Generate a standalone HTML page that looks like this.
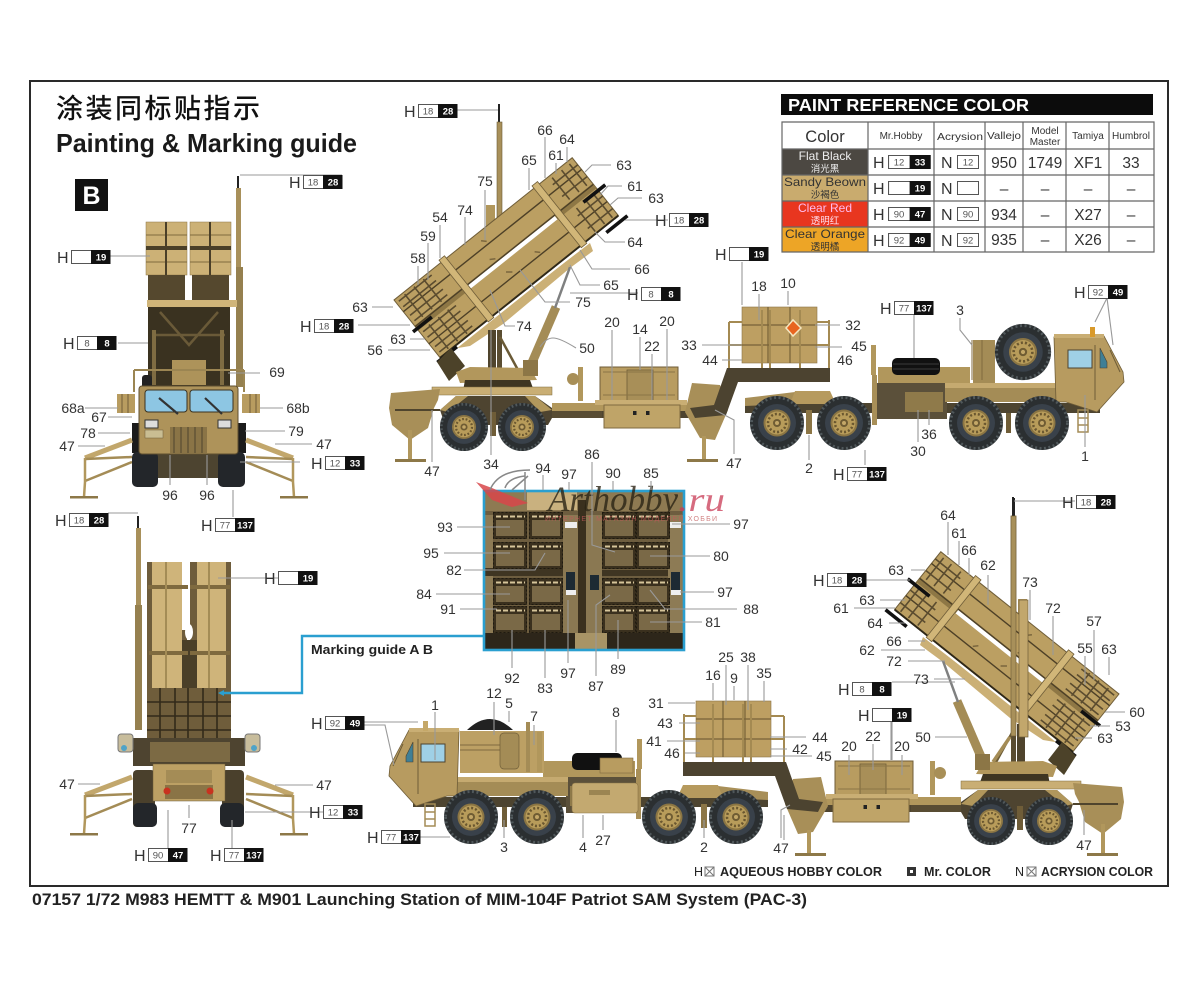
<!DOCTYPE html>
<html><head><meta charset="utf-8"><title>Painting &amp; Marking guide</title>
<style>
html,body{margin:0;padding:0;background:#fff}
svg{display:block}
text{font-family:"Liberation Sans","Noto Sans CJK SC",sans-serif}
.l text{font-size:14px;fill:#333;text-anchor:middle}
.ld{fill:none;stroke:#999;stroke-width:1.1}
.c text{font-size:9.5px;text-anchor:middle}
.c .w{fill:#555}.c .b{fill:#fff;font-weight:bold}
.c .h{font-size:16px;fill:#333;text-anchor:start}
.t text{text-anchor:middle;fill:#333}
</style></head><body>
<svg width="1200" height="982" viewBox="0 0 1200 982" xmlns="http://www.w3.org/2000/svg">
<defs>
<g id="chip"><rect x=".5" y=".5" width="38.5" height="13" fill="#fff" stroke="#555"/><rect x="20" y="0" width="19.5" height="14" fill="#111"/></g>
<g id="wheel">
<circle r="27" fill="#2b2f31"/><circle r="25.5" fill="none" stroke="#50585b" stroke-width="3" stroke-dasharray="2 2.5"/>
<circle r="19" fill="#39414a"/><circle r="13.5" fill="#8b7543"/><circle r="11.5" fill="#b89c5a"/>
<circle r="9" fill="none" stroke="#6a5730" stroke-width="2.5" stroke-dasharray="2 2"/><circle r="4" fill="#6f5c33"/><circle r="2" fill="#c4a868"/>
</g>
<g id="launcher">
<g transform="translate(394,300) rotate(-38.6)">
<rect x="0" y="0" width="228" height="74" fill="#bb9f62" stroke="#6f5d38" stroke-width="1"/>
<rect x="0" y="33" width="228" height="6" fill="#8e7745"/>
<rect x="67" y="34.5" width="111" height="4.5" fill="#fff"/>
<path d="M0 15H228M0 56H228M0 34H228" stroke="#4d4027" stroke-width="1.4" fill="none"/>
<path d="M0 74H228" stroke="#2f2818" stroke-width="2"/>
<rect x="8" y="75" width="215" height="2" fill="#fff"/>
<rect x="60" y="-3" width="7" height="79" fill="#d1b678" stroke="#6f5d38" stroke-width=".8"/>
<rect x="179" y="-3" width="7" height="79" fill="#d1b678" stroke="#6f5d38" stroke-width=".8"/>
<g fill="none" stroke="#5b4c2f" stroke-width="1.6">
<path d="M3 4H45M3 11H45M3 22H45M3 29H45M3 43H45M3 50H45M3 62H45M3 69H45"/>
<path d="M12 2V31M24 2V31M36 2V31M12 41V72M24 41V72M36 41V72"/>
<path d="M200 3V31M212 3V31M222 3V31M200 42V72M212 42V72M222 42V72M196 9H228M196 24H228M196 49H228M196 65H228"/>
</g>
<path d="M105 8l4 4M100 28l5 3M140 50l4 4M105 48l5 4" stroke="#7b673e" stroke-width="1.5"/>
<rect x="-5" y="35" width="24" height="3.6" fill="#111"/>
<rect x="-5" y="74" width="25" height="3.6" fill="#111"/>
<rect x="209" y="40" width="28" height="3.6" fill="#111"/>
<rect x="208" y="78" width="27" height="3.6" fill="#111"/>
</g>
</g>
<g id="base">
<!-- launcher wedge plate -->
<polygon points="590,243 593,251 570,268 503,324 470,346 452,349" fill="#cbb076"/>
<!-- mast -->
<rect x="498" y="104" width="2" height="20" fill="#222"/>
<rect x="497" y="122" width="5" height="95" fill="#a8905a" stroke="#6d5b36" stroke-width=".6"/>
<rect x="486" y="205" width="9" height="35" fill="#b1975c"/>
<use href="#launcher"/>
<rect x="488" y="330" width="8" height="45" fill="#4f442d"/><rect x="497" y="330" width="5" height="40" fill="#5a4d32"/>
<path d="M500 337L518 370" stroke="#6a5a36" stroke-width="2.5"/>
<path d="M556 307L531 365" stroke="#a48c56" stroke-width="9"/><path d="M570 267L555 308" stroke="#7f8080" stroke-width="2.5"/>
<!-- launcher end bracket -->
<polygon points="437,362 451,348 465,366 449,381" fill="#4c4229"/>
<!-- turret -->
<polygon points="456,372 470,367 530,368 537,380 460,383" fill="#b2975c"/>
<polygon points="465,380 530,380 534,391 463,391" fill="#3e3522"/>
<rect x="523" y="360" width="15" height="16" fill="#8c7646"/>
<!-- bed + chassis -->
<rect x="432" y="387" width="120" height="8" fill="#c9ae74" stroke="#7f6a3f" stroke-width=".5"/>
<polygon points="440,410 456,396 535,396 552,408 690,408 690,418 552,418 548,425 445,425" fill="#4e4430"/>
<polygon points="440,410 456,396 468,396 448,412" fill="#b1975c"/>
<polygon points="535,396 552,410 540,412 525,396" fill="#b1975c"/>
<rect x="552" y="403" width="135" height="8" fill="#b1975c"/>
<rect x="552" y="411" width="50" height="7" fill="#584c33"/>
<rect x="578" y="367" width="5" height="34" fill="#b1975c"/><ellipse cx="573" cy="379" rx="6" ry="6" fill="#a88f57"/>
<!-- outriggers -->
<polygon points="391,393 440,389 438,400 434,408 428,428 410,440 392,425 389,408" fill="#a88f58"/>
<path d="M395 410H440" stroke="#4f442d" stroke-width="2"/>
<rect x="408" y="430" width="4" height="30" fill="#b1975c"/><rect x="395" y="459" width="31" height="3" fill="#8d7848"/>
<polygon points="692,383 720,385 728,410 715,440 700,438 685,412" fill="#a88f58"/>
<rect x="702" y="436" width="4" height="24" fill="#b1975c"/><rect x="687" y="459" width="31" height="3" fill="#8d7848"/>
<!-- trailer boxes -->
<rect x="600" y="367" width="78" height="35" fill="#b89c60" stroke="#6f5d38"/>
<rect x="627" y="370" width="26" height="31" fill="#a88f58" stroke="#6f5d38" stroke-width=".8"/>
<path d="M603 372H675M603 395H675" stroke="#8a7446" fill="none"/>
<rect x="595" y="400" width="92" height="5" fill="#c9ae74"/>
<rect x="604" y="405" width="76" height="23" fill="#bfa468" stroke="#7f6a3f"/>
<rect x="633" y="411" width="3.5" height="4" fill="#222"/><rect x="646" y="411" width="3.5" height="4" fill="#222"/>
<!-- gooseneck -->
<polygon points="727,368 830,368 830,382 738,382 726,415 695,418 690,408 714,405" fill="#4c4330"/>
<!-- cargo -->
<rect x="742" y="307" width="75" height="56" fill="#bd9f62" stroke="#8a7446" stroke-width=".6"/>
<path d="M742 325H817M742 345H817M768 307V363M790 307V363" stroke="#776238" stroke-width="1.2"/>
<path d="M729 322V368M729 322H742M729 345H742M762 310V368M770 310V368M800 310V368M829 320V368M829 322H817M829 345H817" fill="none" stroke="#a48a52" stroke-width="2"/>
<!-- tractor chassis -->
<rect x="745" y="403" width="355" height="10" fill="#4d4430"/>
<polygon points="745,398 795,392 795,404 745,406" fill="#a88f58"/>
<polygon points="795,391 830,391 836,404 790,404" fill="#b69a5e"/>
<rect x="877" y="383" width="70" height="36" fill="#5b503a"/>
<rect x="905" y="392" width="38" height="20" fill="#8f7a4a"/>
<rect x="878" y="367" width="92" height="16" fill="#b1975c"/>
<rect x="871" y="345" width="5" height="30" fill="#b1975c"/>
<rect x="872" y="375" width="5" height="50" fill="#a88f58"/>
<rect x="945" y="383" width="122" height="5" fill="#c5aa70"/><rect x="945" y="388" width="120" height="14" fill="#a48c56"/>
<!-- cab -->
<polygon points="1054,337 1104,336 1123,372 1124,382 1097,412 1066,402 1056,402" fill="#b79b60" stroke="#6f5d38" stroke-width=".8"/>
<rect x="1054" y="334" width="50" height="4" fill="#c9ae74"/>
<rect x="1068" y="350" width="24" height="18" fill="#9fd0e6" stroke="#4c4330"/>
<polygon points="1100,348 1107,362 1107,368 1100,368" fill="#3f7f96" stroke="#4c4330" stroke-width=".6"/>
<path d="M1095 345V400M1110 350L1120 372" stroke="#6f5d38" fill="none"/>
<rect x="1078" y="410" width="10" height="22" fill="none" stroke="#a48c56" stroke-width="1.5"/>
<path d="M1078 418H1088M1078 425H1088" stroke="#a48c56" stroke-width="1.5"/>
<!-- wheels -->
<use href="#wheel" transform="translate(464,427) scale(.89)"/>
<use href="#wheel" transform="translate(522,427) scale(.89)"/>
<use href="#wheel" transform="translate(777,423)"/>
<use href="#wheel" transform="translate(844,423)"/>
<use href="#wheel" transform="translate(976,423)"/>
<use href="#wheel" transform="translate(1042,423)"/>
<rect x="490" y="412" width="6" height="24" fill="#6f5d38"/><rect x="806" y="410" width="6" height="24" fill="#8c7646"/><rect x="1006" y="413" width="5" height="20" fill="#6f5d38"/>
</g>
<g id="panel">
<rect width="34" height="27" fill="#3a301e"/><rect x="3" y="8" width="28" height="16" fill="#7a6947"/>
<path d="M3 4.5H32" stroke="#d6c59a" stroke-width="2" stroke-dasharray="5 2"/>
<rect x=".5" y=".5" width="33" height="26" fill="none" stroke="#1f1a10" stroke-dasharray="2 2"/>
</g>
<g id="rig">
<path d="M132 440L85 458" stroke="#c2a76c" stroke-width="5"/>
<path d="M132 457L85 459M132 462L85 481" stroke="#a48c56" stroke-width="2.5"/>
<path d="M85 458V482L84 497" stroke="#b1975c" stroke-width="2.5" fill="none"/>
<rect x="70" y="496" width="28" height="2.5" fill="#8d7848"/>
</g>
</defs>
<rect width="1200" height="982" fill="#fff"/>
<rect x="30" y="81" width="1138" height="805" fill="#fff" stroke="#2a2a2a" stroke-width="2"/>

<text x="56" y="118" font-size="27" font-weight="500" letter-spacing="2.5" fill="#111">涂装同标贴指示</text>
<text x="56" y="152" font-size="26" font-weight="bold" fill="#1a1a1a" textLength="301" lengthAdjust="spacingAndGlyphs">Painting &amp; Marking guide</text>
<rect x="75" y="179" width="33" height="32" fill="#111"/><text x="91.5" y="204" font-size="25" font-weight="bold" fill="#fff" text-anchor="middle">B</text>

<!-- table -->
<rect x="781" y="94" width="372" height="21" fill="#0c0c0c"/>
<text x="788" y="111" font-size="17.5" font-weight="bold" fill="#fff" textLength="241" lengthAdjust="spacingAndGlyphs">PAINT  REFERENCE COLOR</text>
<rect x="782" y="149" width="86" height="26" fill="#4c4842"/><rect x="782" y="175" width="86" height="26" fill="#c9ab6e"/><rect x="782" y="201" width="86" height="26" fill="#e8361f"/><rect x="782" y="227" width="86" height="25" fill="#eda526"/>
<path d="M782 122H1154V252H782ZM782 149H1154M782 175H1154M782 201H1154M782 227H1154M868 122V252M934 122V252M985 122V252M1023 122V252M1066 122V252M1109 122V252" fill="none" stroke="#666" stroke-width="1.2"/>
<g class="t">
<text x="825" y="142" font-size="16.5">Color</text>
<text x="901" y="139" font-size="10">Mr.Hobby</text><text x="960" y="140" font-size="10.5" textLength="46" lengthAdjust="spacingAndGlyphs">Acrysion</text><text x="1004" y="139" font-size="10" textLength="34" lengthAdjust="spacingAndGlyphs">Vallejo</text><text x="1045" y="134" font-size="10">Model</text><text x="1045" y="145" font-size="10">Master</text><text x="1088" y="139" font-size="10">Tamiya</text><text x="1131" y="139" font-size="10" textLength="38" lengthAdjust="spacingAndGlyphs">Humbrol</text>
<text x="825" y="160" font-size="12" style="fill:#eee">Flat Black</text><text x="825" y="172" font-size="9.5" style="fill:#eee">消光黑</text>
<text x="825" y="186" font-size="12" textLength="82" lengthAdjust="spacingAndGlyphs">Sandy Beown</text><text x="825" y="198" font-size="9.5">沙褐色</text>
<text x="825" y="212" font-size="12" style="fill:#fbe">Clear Red</text><text x="825" y="224" font-size="9.5" style="fill:#fde">透明红</text>
<text x="825" y="238" font-size="12" textLength="80" lengthAdjust="spacingAndGlyphs">Clear Orange</text><text x="825" y="250" font-size="9.5">透明橘</text>
<g font-size="15.5"><text x="1004" y="168">950</text><text x="1045" y="168">1749</text><text x="1088" y="168">XF1</text><text x="1131" y="168">33</text>
<text x="1004" y="194">–</text><text x="1045" y="194">–</text><text x="1088" y="194">–</text><text x="1131" y="194">–</text>
<text x="1004" y="220">934</text><text x="1045" y="220">–</text><text x="1088" y="220">X27</text><text x="1131" y="220">–</text>
<text x="1004" y="245">935</text><text x="1045" y="245">–</text><text x="1088" y="245">X26</text><text x="1131" y="245">–</text></g>
</g>
<g class="c">
<g transform="translate(888,155)"><use href="#chip" transform="scale(1.08,1)"/><text class="w" x="11" y="10.5">12</text><text class="b" x="32" y="10.5">33</text><text class="h" x="-15" y="13">H</text></g>
<g transform="translate(888,181)"><use href="#chip" transform="scale(1.08,1)"/><text class="b" x="32" y="10.5">19</text><text class="h" x="-15" y="13">H</text></g>
<g transform="translate(888,207)"><use href="#chip" transform="scale(1.08,1)"/><text class="w" x="11" y="10.5">90</text><text class="b" x="32" y="10.5">47</text><text class="h" x="-15" y="13">H</text></g>
<g transform="translate(888,233)"><use href="#chip" transform="scale(1.08,1)"/><text class="w" x="11" y="10.5">92</text><text class="b" x="32" y="10.5">49</text><text class="h" x="-15" y="13">H</text></g>
<g transform="translate(957,155)"><rect x=".5" y=".5" width="21" height="13" fill="#fff" stroke="#555"/><text class="w" x="11" y="10.5">12</text><text class="h" x="-16" y="13">N</text></g>
<g transform="translate(957,181)"><rect x=".5" y=".5" width="21" height="13" fill="#fff" stroke="#555"/><text class="h" x="-16" y="13">N</text></g>
<g transform="translate(957,207)"><rect x=".5" y=".5" width="21" height="13" fill="#fff" stroke="#555"/><text class="w" x="11" y="10.5">90</text><text class="h" x="-16" y="13">N</text></g>
<g transform="translate(957,233)"><rect x=".5" y=".5" width="21" height="13" fill="#fff" stroke="#555"/><text class="w" x="11" y="10.5">92</text><text class="h" x="-16" y="13">N</text></g>
</g>

<!-- TOP side view -->
<use href="#base"/>
<polygon points="786,328 793,320 801,328 793,336" fill="#e8641f" stroke="#f5e6c0" stroke-width="1.5"/>
<!-- top truck specifics -->
<rect x="973" y="340" width="22" height="43" fill="#a48c56"/><path d="M972 340V380M982 340V380" stroke="#7f6a3f"/>
<use href="#wheel" transform="translate(1023,352) scale(1.04)"/>
<rect x="1090" y="327" width="5" height="10" fill="#d99a2b"/>
<rect x="892" y="358" width="48" height="17" rx="5" fill="#111"/><path d="M893 364H939M893 369H939" stroke="#3a3a3a"/>

<!-- BOTTOM side view -->
<use href="#base" transform="translate(1513,394) scale(-1,1)"/>
<!-- lower mast and post in front of the launcher -->
<rect x="1012" y="497" width="2" height="19" fill="#222"/>
<rect x="1011" y="516" width="5" height="220" fill="#a8905a" stroke="#6d5b36" stroke-width=".6"/>
<rect x="1019" y="600" width="9" height="137" fill="#c2a76c" stroke="#6f5d38" stroke-width=".7"/>
<path d="M1010 737L993 762" stroke="#a48c56" stroke-width="3.5"/>
<!-- bottom truck specifics -->
<path d="M467 730Q490 708 513 730Z" fill="#222"/>
<rect x="460" y="731" width="84" height="42" fill="#bca064"/>
<path d="M460 745H500M460 750H500" stroke="#7f6a3f"/>
<rect x="500" y="733" width="19" height="36" rx="4" fill="#a48c56" stroke="#6f5d38" stroke-width=".7"/>
<rect x="526" y="722" width="4" height="50" fill="#a48c56"/><rect x="537" y="732" width="5" height="40" fill="#b1975c"/>
<rect x="423" y="721" width="5" height="10" fill="#c5a868"/>
<rect x="572" y="753" width="50" height="17" rx="5" fill="#111"/>
<rect x="600" y="758" width="33" height="15" fill="#b89c60" stroke="#7f6a3f" stroke-width=".6"/>
<rect x="572" y="783" width="66" height="30" rx="3" fill="#c3a970" stroke="#8a7446" stroke-width=".6"/>
<rect x="589" y="790" width="21" height="5" fill="#9b8552"/>

<!-- FRONT view -->
<rect x="237" y="176" width="2" height="12" fill="#222"/><rect x="236" y="188" width="5" height="100" fill="#a8905a"/><rect x="236" y="267" width="7" height="120" fill="#95804f"/>
<rect x="146" y="222" width="41" height="53" fill="#ccb176" stroke="#8a7446" stroke-width=".5"/>
<rect x="190" y="222" width="41" height="53" fill="#ccb176" stroke="#8a7446" stroke-width=".5"/>
<path d="M146 235H187M146 248H187M146 262H187M190 235H231M190 248H231M190 262H231" stroke="#7f6a3f"/>
<rect x="146" y="246" width="41" height="4" fill="#4a3f28"/><rect x="190" y="246" width="41" height="4" fill="#4a3f28"/>
<rect x="165" y="222" width="2" height="53" fill="#4a3f28"/><rect x="209" y="222" width="2" height="53" fill="#4a3f28"/>
<rect x="148" y="275" width="37" height="25" fill="#55482e"/><rect x="192" y="275" width="37" height="25" fill="#55482e"/>
<rect x="147" y="300" width="90" height="7" fill="#d0b579"/>
<rect x="148" y="307" width="82" height="80" fill="#3a3220"/>
<path d="M160 312L189 345L218 312M153 335H225" stroke="#6a5a38" stroke-width="2.5" fill="none"/>
<rect x="152" y="330" width="4" height="55" fill="#7f6c42"/><rect x="220" y="330" width="4" height="55" fill="#7f6c42"/>
<rect x="172" y="360" width="34" height="25" fill="#ad935a"/>
<path d="M134 370H244M134 370V392M244 370V392" stroke="#9b8552" stroke-width="2" fill="none"/>
<rect x="142" y="375" width="10" height="14" rx="3" fill="#222"/>
<rect x="117" y="394" width="18" height="19" fill="#b89c60"/><path d="M122 394V413M128 394V413" stroke="#6f5d38"/>
<rect x="242" y="394" width="18" height="19" fill="#b89c60"/><path d="M250 394V413M256 394V413" stroke="#6f5d38"/>
<rect x="132" y="423" width="10" height="30" fill="#1b1b1b"/><rect x="236" y="423" width="10" height="30" fill="#1b1b1b"/>
<use href="#rig"/><use href="#rig" transform="translate(378,0) scale(-1,1)"/>
<rect x="150" y="450" width="72" height="28" fill="#4d4430"/>
<rect x="132" y="452" width="26" height="35" rx="5" fill="#23262a"/><rect x="218" y="452" width="27" height="35" rx="5" fill="#23262a"/>
<rect x="139" y="386" width="99" height="68" rx="3" fill="#ae935a" stroke="#5f4f30"/>
<rect x="145" y="390" width="42" height="22" rx="3" fill="#8dc6e3" stroke="#3b3220"/>
<rect x="190" y="390" width="43" height="22" rx="3" fill="#8dc6e3" stroke="#3b3220"/>
<path d="M159 398L178 414M205 398L222 414" stroke="#333" stroke-width="2.2"/>
<rect x="145" y="420" width="13" height="8" fill="#ddd" stroke="#333"/><rect x="218" y="420" width="13" height="8" fill="#ddd" stroke="#333"/>
<rect x="145" y="430" width="18" height="8" fill="#c9bd93" stroke="#6f5d38" stroke-width=".5"/>
<rect x="170" y="427" width="37" height="26" fill="#8a7446"/><path d="M174 427V453M181 427V453M188 427V453M195 427V453M202 427V453" stroke="#4f442d"/>

<!-- REAR view -->
<rect x="137" y="516" width="2" height="12" fill="#222"/><rect x="136" y="528" width="5" height="90" fill="#a8905a"/><rect x="135" y="605" width="7" height="125" fill="#95804f"/>
<rect x="147" y="562" width="40" height="126" fill="#6e5c3b"/><rect x="190" y="562" width="41" height="126" fill="#6e5c3b"/>
<rect x="152" y="562" width="30" height="126" fill="#cfb47a"/><rect x="197" y="562" width="29" height="126" fill="#cfb47a"/>
<rect x="182" y="640" width="15" height="50" fill="#4a3f28"/>
<ellipse cx="189" cy="632" rx="4" ry="8" fill="#fff"/>
<rect x="182" y="562" width="8" height="68" fill="#fff"/>
<rect x="148" y="585" width="40" height="4" fill="#7f6a3f"/><rect x="190" y="585" width="40" height="4" fill="#7f6a3f"/>
<rect x="149" y="651" width="39" height="4" fill="#7f6a3f"/><rect x="190" y="651" width="40" height="4" fill="#7f6a3f"/>
<rect x="165" y="562" width="2" height="126" fill="#a48c56"/><rect x="208" y="562" width="2" height="126" fill="#a48c56"/>
<rect x="147" y="688" width="84" height="52" fill="#6f5d3b"/>
<path d="M147 702H231M147 716H231M147 730H231M160 688V740M175 688V740M188 688V740M203 688V740M217 688V740" stroke="#322a1a" stroke-width="1.6"/>
<rect x="133" y="738" width="112" height="28" fill="#4e4430"/>
<rect x="150" y="742" width="80" height="20" fill="#7c6a44"/>
<rect x="118" y="734" width="15" height="18" rx="3" fill="#c8bd9c" stroke="#777"/><rect x="245" y="734" width="15" height="18" rx="3" fill="#c8bd9c" stroke="#777"/>
<circle cx="124" cy="748" r="3" fill="#4fa3c8"/><circle cx="254" cy="748" r="3" fill="#4fa3c8"/>
<rect x="133" y="770" width="22" height="57" rx="4" fill="#4a402c"/><rect x="222" y="770" width="22" height="57" rx="4" fill="#4a402c"/>
<rect x="133" y="803" width="24" height="24" rx="5" fill="#23262a"/><rect x="220" y="803" width="24" height="24" rx="5" fill="#23262a"/>
<use href="#rig" transform="translate(0,337)"/><use href="#rig" transform="translate(378,337) scale(-1,1)"/>
<rect x="153" y="764" width="72" height="37" fill="#bca064" stroke="#6f5d38" stroke-width=".5"/>
<rect x="166" y="770" width="46" height="13" fill="#a48c56"/>
<rect x="165" y="785" width="48" height="14" fill="#8a7446"/>
<circle cx="167" cy="791" r="3.5" fill="#c8321f"/><circle cx="210" cy="791" r="3.5" fill="#c8321f"/>

<!-- CENTER panel -->
<rect x="484" y="491" width="200" height="159" fill="#6d5d3f"/>
<rect x="484" y="491" width="200" height="20" fill="#8e7a52"/>
<rect x="527" y="492" width="50" height="18" fill="#c9b17f"/>
<rect x="563" y="515" width="16" height="120" fill="#8a7852"/><rect x="585" y="515" width="17" height="120" fill="#8a7852"/>
<rect x="668" y="515" width="15" height="120" fill="#8d7b55"/><rect x="484" y="515" width="9" height="120" fill="#8d7b55"/>
<rect x="578" y="500" width="8" height="135" fill="#3a301e"/>
<rect x="484" y="633" width="200" height="17" fill="#2d261a"/><rect x="575" y="633" width="32" height="17" fill="#a89466"/>
<rect x="484" y="568" width="79" height="8" fill="#3f3522"/><rect x="602" y="570" width="66" height="6" fill="#3f3522"/>
<g>
<use href="#panel" x="493" y="512"/><use href="#panel" x="529" y="512"/><use href="#panel" x="602" y="512"/><use href="#panel" x="636" y="512"/>
<use href="#panel" x="493" y="542"/><use href="#panel" x="529" y="542"/><use href="#panel" x="602" y="542"/><use href="#panel" x="636" y="542"/>
<use href="#panel" x="493" y="578"/><use href="#panel" x="529" y="578"/><use href="#panel" x="602" y="578"/><use href="#panel" x="636" y="578"/>
<use href="#panel" x="493" y="606"/><use href="#panel" x="529" y="606"/><use href="#panel" x="602" y="606"/><use href="#panel" x="636" y="606"/>
</g>
<rect x="565" y="522" width="12" height="6" fill="#eee"/><rect x="670" y="522" width="11" height="6" fill="#eee"/><rect x="566" y="590" width="10" height="5" fill="#eee"/><rect x="671" y="590" width="10" height="5" fill="#eee"/>
<rect x="566" y="572" width="9" height="18" fill="#1d2a33"/><rect x="590" y="575" width="9" height="15" fill="#1d2a33"/><rect x="671" y="572" width="9" height="18" fill="#1d2a33"/>
<rect x="484" y="491" width="200" height="159" fill="none" stroke="#2a9fd0" stroke-width="2.6"/>
<path d="M484 636H302V693H222" fill="none" stroke="#2a9fd0" stroke-width="2.4"/>
<polygon points="218,693 224,690 224,696" fill="#2a9fd0"/>
<text x="311" y="654" font-size="12.5" font-weight="bold" fill="#222" textLength="122" lengthAdjust="spacingAndGlyphs">Marking guide  A  B</text>

<!-- watermark -->
<polygon points="476,482 492,488 528,503 512,507 492,500" fill="#d8464a" opacity=".85"/>
<path d="M490 490Q498 470 530 470M505 488Q508 478 525 476M512 490L528 476M525 500V472" fill="none" stroke="#888" stroke-width="1.5"/>
<text x="548" y="511" font-size="36" font-style="italic" fill="#2b2415" opacity=".8" style="font-family:'Liberation Serif',serif" textLength="130" lengthAdjust="spacingAndGlyphs">Arthobby</text>
<text x="678" y="511" font-size="34" font-style="italic" fill="#c93a55" opacity=".75" style="font-family:'Liberation Serif',serif" textLength="47" lengthAdjust="spacingAndGlyphs">.ru</text>
<text x="545" y="521" font-size="7" fill="#c25a5a" opacity=".75" textLength="172" lengthAdjust="spacing">ИНТЕРНЕТ МАГАЗИН МОДЕЛЕЙ ХОББИ</text>

<!-- leaders -->
<path class="ld" d="M457 110H498M545 137V178M567 147V162M529 168V190M556 163V174M485 190V240M611 165H592L585 172M622 186H608L600 195M642 198H618L610 205M465 217V245M440 225V258M428 243V280M418 266V285M625 242H605L595 232M630 269H592L580 250M600 285H580L570 265M570 302H545L520 270M515 326H505L490 290M372 307H393M358 325H410M410 339H425M388 350H430M576 348Q560 338 553 338Q546 338 540 347M638 293H570M668 220H625M612 330V400M640 337V370M652 354V400M667 329V400M702 345H742M722 360H742M842 347H815M840 325H815M742 262V305M759 294V320M788 291V305M914 315V358M960 318V330L972 345M1107 298L1095 322M1107 298L1113 345M1085 447V395M809 460V435M865 465V450M929 425V410M918 442V410M734 454V420L715 410M432 462V410M491 455V330"/>
<path class="ld" d="M543 475V490M569 482V490M592 462V545L615 552M613 481V490M651 481V490M457 527H510M444 553H510M464 570H535L545 553M436 594H510M460 609H497M730 524H672M710 556H650M714 592H680M737 609H665L650 590M702 622H650M512 668V630M545 678V630M568 663V600M596 676V605L610 595M618 659V620"/>
<path class="ld" d="M342 175H240M92 256H150M118 343H148M228 373H260M85 408H118M108 417H132M98 433H130M78 446H105M283 408H260M285 431H245M312 444H275M300 462H240M170 485V455M207 485V455M233 490V517"/>
<path class="ld" d="M108 513H138M278 578H218M78 784H100M313 785H275M323 812H245M189 818V805M168 848V810M232 848V820"/>
<path class="ld" d="M1075 501H1014M827 580H910M892 682H955M892 708V760M911 570H925M880 600H905M854 608H895M889 623H905M908 641H925M881 650H925M908 661H945M934 679H965M935 737H967M948 522V555M959 541V565M969 558V575M988 575V605M1030 590V620M1053 616V655M1094 630V680M1085 656V685M1109 657V675M1125 712H1105M1110 726H1090M1092 738H1075M1084 835V810M781 838V810L790 805"/>
<path class="ld" d="M435 712V760M494 702V735M509 711V722M534 725V745M616 720V752M668 703H695M679 723H700M667 741H700M685 753H700M713 683V700M726 665V705M734 686V700M748 665V710M764 681V702M806 737H770M787 749H770M812 756H770M849 755V775M873 744V770M902 755V775M891 722V760M397 837H450M504 838V820M583 838V815M603 830V815M704 838V820M784 840V815M363 725H385L394 765M363 722H418"/>

<!-- labels -->
<g class="l">
<text x="545" y="135">66</text><text x="567" y="144">64</text><text x="529" y="165">65</text><text x="556" y="160">61</text><text x="485" y="186">75</text><text x="624" y="170">63</text><text x="635" y="191">61</text><text x="656" y="203">63</text><text x="465" y="215">74</text><text x="440" y="222">54</text><text x="428" y="241">59</text><text x="418" y="263">58</text><text x="635" y="247">64</text><text x="642" y="274">66</text><text x="611" y="290">65</text><text x="583" y="307">75</text><text x="524" y="331">74</text><text x="360" y="312">63</text><text x="398" y="344">63</text><text x="375" y="355">56</text><text x="587" y="353">50</text><text x="612" y="327">20</text><text x="640" y="334">14</text><text x="652" y="351">22</text><text x="667" y="326">20</text><text x="689" y="350">33</text><text x="710" y="365">44</text><text x="759" y="291">18</text><text x="788" y="288">10</text><text x="853" y="330">32</text><text x="859" y="351">45</text><text x="845" y="365">46</text><text x="960" y="315">3</text><text x="432" y="476">47</text><text x="491" y="469">34</text><text x="734" y="468">47</text><text x="809" y="473">2</text><text x="929" y="439">36</text><text x="918" y="456">30</text><text x="1085" y="461">1</text>
<text x="543" y="473">94</text><text x="569" y="479">97</text><text x="592" y="459">86</text><text x="613" y="478">90</text><text x="651" y="478">85</text><text x="445" y="532">93</text><text x="431" y="558">95</text><text x="454" y="575">82</text><text x="424" y="599">84</text><text x="448" y="614">91</text><text x="741" y="529">97</text><text x="721" y="561">80</text><text x="725" y="597">97</text><text x="751" y="614">88</text><text x="713" y="627">81</text><text x="512" y="683">92</text><text x="545" y="693">83</text><text x="568" y="678">97</text><text x="596" y="691">87</text><text x="618" y="674">89</text>
<text x="435" y="710">1</text><text x="494" y="698">12</text><text x="509" y="708">5</text><text x="534" y="721">7</text><text x="616" y="717">8</text><text x="656" y="708">31</text><text x="713" y="680">16</text><text x="726" y="662">25</text><text x="734" y="683">9</text><text x="748" y="662">38</text><text x="764" y="678">35</text><text x="665" y="728">43</text><text x="654" y="746">41</text><text x="672" y="758">46</text><text x="820" y="742">44</text><text x="800" y="754">42</text><text x="824" y="761">45</text><text x="849" y="751">20</text><text x="873" y="741">22</text><text x="902" y="751">20</text><text x="504" y="852">3</text><text x="583" y="852">4</text><text x="603" y="845">27</text><text x="704" y="852">2</text><text x="781" y="853">47</text>
<text x="948" y="520">64</text><text x="959" y="538">61</text><text x="969" y="555">66</text><text x="988" y="570">62</text><text x="1030" y="587">73</text><text x="1053" y="613">72</text><text x="1094" y="626">57</text><text x="1085" y="653">55</text><text x="1109" y="654">63</text><text x="896" y="575">63</text><text x="867" y="605">63</text><text x="841" y="613">61</text><text x="875" y="628">64</text><text x="894" y="646">66</text><text x="867" y="655">62</text><text x="894" y="666">72</text><text x="921" y="684">73</text><text x="923" y="742">50</text><text x="1137" y="717">60</text><text x="1123" y="731">53</text><text x="1105" y="743">63</text><text x="1084" y="850">47</text>
<text x="277" y="377">69</text><text x="73" y="413">68a</text><text x="99" y="422">67</text><text x="88" y="438">78</text><text x="67" y="451">47</text><text x="298" y="413">68b</text><text x="296" y="436">79</text><text x="324" y="449">47</text><text x="170" y="500">96</text><text x="207" y="500">96</text>
<text x="67" y="789">47</text><text x="324" y="790">47</text><text x="189" y="833">77</text>
</g>

<!-- chips -->
<g class="c">
<g transform="translate(418,104)"><use href="#chip"/><text class="w" x="10" y="10.5">18</text><text class="b" x="30" y="10.5">28</text><text class="h" x="-14" y="13">H</text></g>
<g transform="translate(669,213)"><use href="#chip"/><text class="w" x="10" y="10.5">18</text><text class="b" x="30" y="10.5">28</text><text class="h" x="-14" y="13">H</text></g>
<g transform="translate(641,287)"><use href="#chip"/><text class="w" x="10" y="10.5">8</text><text class="b" x="30" y="10.5">8</text><text class="h" x="-14" y="13">H</text></g>
<g transform="translate(729,247)"><use href="#chip"/><text class="b" x="30" y="10.5">19</text><text class="h" x="-14" y="13">H</text></g>
<g transform="translate(894,301)"><use href="#chip"/><text class="w" x="10" y="10.5">77</text><text class="b" x="30" y="10.5">137</text><text class="h" x="-14" y="13">H</text></g>
<g transform="translate(1088,285)"><use href="#chip"/><text class="w" x="10" y="10.5">92</text><text class="b" x="30" y="10.5">49</text><text class="h" x="-14" y="13">H</text></g>
<g transform="translate(847,467)"><use href="#chip"/><text class="w" x="10" y="10.5">77</text><text class="b" x="30" y="10.5">137</text><text class="h" x="-14" y="13">H</text></g>
<g transform="translate(314,319)"><use href="#chip"/><text class="w" x="10" y="10.5">18</text><text class="b" x="30" y="10.5">28</text><text class="h" x="-14" y="13">H</text></g>
<g transform="translate(303,175)"><use href="#chip"/><text class="w" x="10" y="10.5">18</text><text class="b" x="30" y="10.5">28</text><text class="h" x="-14" y="13">H</text></g>
<g transform="translate(71,250)"><use href="#chip"/><text class="b" x="30" y="10.5">19</text><text class="h" x="-14" y="13">H</text></g>
<g transform="translate(77,336)"><use href="#chip"/><text class="w" x="10" y="10.5">8</text><text class="b" x="30" y="10.5">8</text><text class="h" x="-14" y="13">H</text></g>
<g transform="translate(325,456)"><use href="#chip"/><text class="w" x="10" y="10.5">12</text><text class="b" x="30" y="10.5">33</text><text class="h" x="-14" y="13">H</text></g>
<g transform="translate(215,518)"><use href="#chip"/><text class="w" x="10" y="10.5">77</text><text class="b" x="30" y="10.5">137</text><text class="h" x="-14" y="13">H</text></g>
<g transform="translate(69,513)"><use href="#chip"/><text class="w" x="10" y="10.5">18</text><text class="b" x="30" y="10.5">28</text><text class="h" x="-14" y="13">H</text></g>
<g transform="translate(278,571)"><use href="#chip"/><text class="b" x="30" y="10.5">19</text><text class="h" x="-14" y="13">H</text></g>
<g transform="translate(325,716)"><use href="#chip"/><text class="w" x="10" y="10.5">92</text><text class="b" x="30" y="10.5">49</text><text class="h" x="-14" y="13">H</text></g>
<g transform="translate(323,805)"><use href="#chip"/><text class="w" x="10" y="10.5">12</text><text class="b" x="30" y="10.5">33</text><text class="h" x="-14" y="13">H</text></g>
<g transform="translate(148,848)"><use href="#chip"/><text class="w" x="10" y="10.5">90</text><text class="b" x="30" y="10.5">47</text><text class="h" x="-14" y="13">H</text></g>
<g transform="translate(224,848)"><use href="#chip"/><text class="w" x="10" y="10.5">77</text><text class="b" x="30" y="10.5">137</text><text class="h" x="-14" y="13">H</text></g>
<g transform="translate(1076,495)"><use href="#chip"/><text class="w" x="10" y="10.5">18</text><text class="b" x="30" y="10.5">28</text><text class="h" x="-14" y="13">H</text></g>
<g transform="translate(827,573)"><use href="#chip"/><text class="w" x="10" y="10.5">18</text><text class="b" x="30" y="10.5">28</text><text class="h" x="-14" y="13">H</text></g>
<g transform="translate(852,682)"><use href="#chip"/><text class="w" x="10" y="10.5">8</text><text class="b" x="30" y="10.5">8</text><text class="h" x="-14" y="13">H</text></g>
<g transform="translate(872,708)"><use href="#chip"/><text class="b" x="30" y="10.5">19</text><text class="h" x="-14" y="13">H</text></g>
<g transform="translate(381,830)"><use href="#chip"/><text class="w" x="10" y="10.5">77</text><text class="b" x="30" y="10.5">137</text><text class="h" x="-14" y="13">H</text></g>
</g>

<!-- legend -->
<g font-size="12.5" font-weight="bold" fill="#222">
<text x="694" y="876" font-weight="normal">H</text><rect x="705" y="867" width="9" height="9" fill="#fff" stroke="#777"/><path d="M705 867L714 876M714 867L705 876" stroke="#777"/>
<text x="720" y="876" textLength="162" lengthAdjust="spacingAndGlyphs">AQUEOUS HOBBY COLOR</text>
<rect x="907" y="867" width="9" height="9" fill="#333"/><rect x="910" y="870" width="3" height="3" fill="#fff"/>
<text x="924" y="876" textLength="67" lengthAdjust="spacingAndGlyphs">Mr. COLOR</text>
<text x="1015" y="876" font-weight="normal">N</text><rect x="1027" y="867" width="9" height="9" fill="#fff" stroke="#777"/><path d="M1027 867L1036 876M1036 867L1027 876" stroke="#777"/>
<text x="1041" y="876" textLength="112" lengthAdjust="spacingAndGlyphs">ACRYSION COLOR</text>
</g>
<text x="32" y="905" font-size="16.5" font-weight="bold" fill="#222" textLength="775" lengthAdjust="spacingAndGlyphs">07157 1/72 M983 HEMTT &amp; M901 Launching Station of MIM-104F Patriot SAM System (PAC-3)</text>
</svg>
</body></html>
